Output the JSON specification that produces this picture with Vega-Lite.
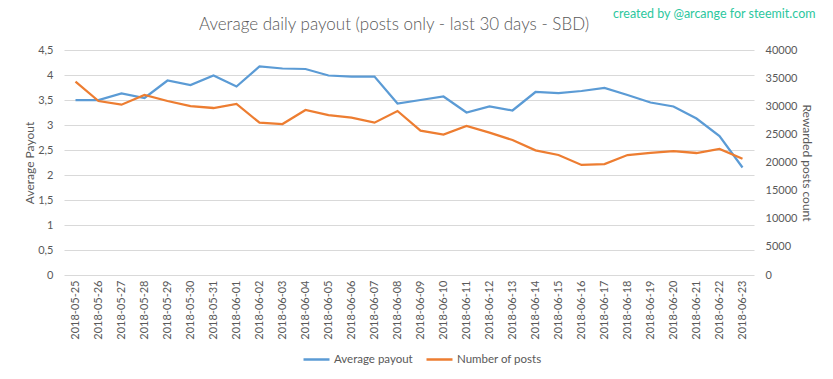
{
  "$schema": "https://vega.github.io/schema/vega-lite/v6.json",
  "width": 690,
  "height": 225,
  "autosize": {"type": "none"},
  "padding": {"left": 64, "top": 50, "right": 79, "bottom": 104},
  "background": "white",
  "config": {
    "font": "Lato",
    "view": {"stroke": null},
    "axis": {
      "labelColor": "#595959",
      "titleColor": "#595959",
      "labelFont": "Lato",
      "titleFont": "Lato",
      "labelFontSize": 11,
      "titleFontSize": 12,
      "titleFontWeight": "normal",
      "domain": false,
      "ticks": false,
      "gridColor": "#D9D9D9",
      "gridWidth": 1
    },
    "legend": {
      "labelFont": "Lato",
      "labelFontSize": 11.5,
      "labelColor": "#595959"
    }
  },
  "title": {
    "text": "Average daily payout (posts only - last 30 days - SBD)",
    "font": "Lato",
    "fontSize": 17,
    "fontWeight": 300,
    "color": "#595959",
    "anchor": "middle",
    "dx": -15,
    "offset": -26
  },
  "data": {
    "values": [
      {"date": "2018-05-25", "payout": 3.50, "posts": 34370},
      {"date": "2018-05-26", "payout": 3.50, "posts": 30930},
      {"date": "2018-05-27", "payout": 3.63, "posts": 30280},
      {"date": "2018-05-28", "payout": 3.54, "posts": 32000},
      {"date": "2018-05-29", "payout": 3.89, "posts": 30930},
      {"date": "2018-05-30", "payout": 3.80, "posts": 30040},
      {"date": "2018-05-31", "payout": 3.99, "posts": 29690},
      {"date": "2018-06-01", "payout": 3.77, "posts": 30400},
      {"date": "2018-06-02", "payout": 4.17, "posts": 27080},
      {"date": "2018-06-03", "payout": 4.13, "posts": 26840},
      {"date": "2018-06-04", "payout": 4.12, "posts": 29330},
      {"date": "2018-06-05", "payout": 3.99, "posts": 28440},
      {"date": "2018-06-06", "payout": 3.97, "posts": 27970},
      {"date": "2018-06-07", "payout": 3.97, "posts": 27080},
      {"date": "2018-06-08", "payout": 3.43, "posts": 29160},
      {"date": "2018-06-09", "payout": 3.50, "posts": 25660},
      {"date": "2018-06-10", "payout": 3.57, "posts": 24950},
      {"date": "2018-06-11", "payout": 3.25, "posts": 26490},
      {"date": "2018-06-12", "payout": 3.37, "posts": 25300},
      {"date": "2018-06-13", "payout": 3.29, "posts": 24000},
      {"date": "2018-06-14", "payout": 3.66, "posts": 22160},
      {"date": "2018-06-15", "payout": 3.64, "posts": 21330},
      {"date": "2018-06-16", "payout": 3.68, "posts": 19560},
      {"date": "2018-06-17", "payout": 3.74, "posts": 19730},
      {"date": "2018-06-18", "payout": 3.60, "posts": 21330},
      {"date": "2018-06-19", "payout": 3.45, "posts": 21690},
      {"date": "2018-06-20", "payout": 3.37, "posts": 22040},
      {"date": "2018-06-21", "payout": 3.13, "posts": 21690},
      {"date": "2018-06-22", "payout": 2.78, "posts": 22400},
      {"date": "2018-06-23", "payout": 2.15, "posts": 20680}
    ]
  },
  "encoding": {
    "x": {
      "field": "date",
      "type": "ordinal",
      "scale": {"type": "point", "padding": 0.5},
      "axis": {"title": null, "labelAngle": -90, "labelPadding": 5, "grid": false}
    }
  },
  "layer": [
    {
      "mark": {"type": "line", "strokeWidth": 2.25},
      "encoding": {
        "y": {
          "field": "payout",
          "type": "quantitative",
          "scale": {"domain": [0, 4.5], "nice": false},
          "axis": {
            "title": "Average Payout",
            "values": [0, 0.5, 1, 1.5, 2, 2.5, 3, 3.5, 4, 4.5],
            "labelExpr": "replace(format(datum.value, '.1~f'), '.', ',')",
            "grid": true,
            "labelPadding": 11,
            "titlePadding": 1
          }
        },
        "color": {
          "datum": "Average payout",
          "type": "nominal",
          "scale": {"domain": ["Average payout", "Number of posts"], "range": ["#5B9BD5", "#ED7D31"]},
          "legend": {
            "orient": "none",
            "legendX": 238,
            "legendY": 295,
            "direction": "horizontal",
            "title": null,
            "symbolType": "stroke",
            "symbolStrokeWidth": 2.5,
            "symbolSize": 676,
            "labelOffset": 3,
            "columnPadding": 8
          }
        }
      }
    },
    {
      "mark": {"type": "line", "strokeWidth": 2.25},
      "encoding": {
        "y": {
          "field": "posts",
          "type": "quantitative",
          "scale": {"domain": [0, 40000], "nice": false},
          "axis": {
            "orient": "right",
            "title": "Rewarded posts count",
            "values": [0, 5000, 10000, 15000, 20000, 25000, 30000, 35000, 40000],
            "format": "d",
            "grid": false,
            "labelPadding": 11,
            "titlePadding": 3
          }
        },
        "color": {"datum": "Number of posts", "type": "nominal"}
      }
    },
    {
      "data": {"values": [{"date": "2018-06-23", "label": "created by @arcange for steemit.com"}]},
      "mark": {
        "type": "text",
        "font": "Lato",
        "fontSize": 12.5,
        "fontWeight": "normal",
        "fill": "#2CC79E",
        "align": "right",
        "baseline": "middle",
        "dx": 73,
        "dy": -36
      },
      "encoding": {
        "text": {"field": "label"},
        "y": {"datum": 1, "type": "quantitative", "scale": {"domain": [0, 1]}, "axis": null}
      }
    }
  ],
  "resolve": {"scale": {"y": "independent"}}
}
